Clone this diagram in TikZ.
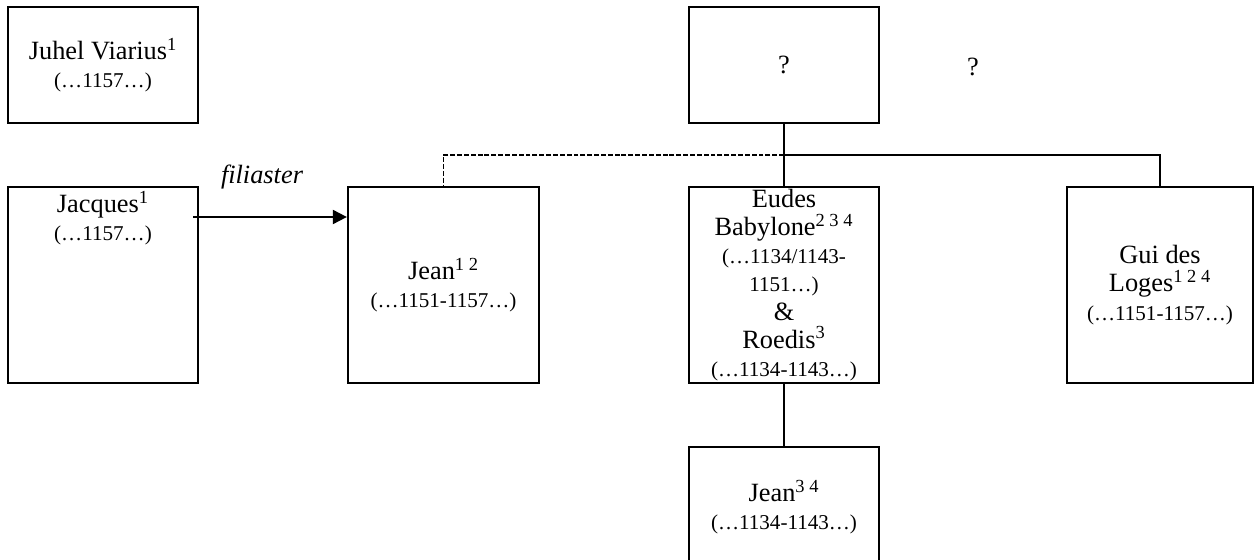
\documentclass[tikz,border=0pt]{standalone}
\usepackage{fontspec}
\setmainfont{Liberation Serif}
\usepackage{tikz}
\usetikzlibrary{arrows.meta,positioning}
\newcommand{\lifespan}[1]{{\fontsize{12}{16}\selectfont #1}}

\begin{document}
\begin{tikzpicture}[
 x=0.02cm,y=-0.02cm,
 box/.style={draw,line width=1.3pt,align=center,inner sep=0pt,minimum width=3.8cm,font=\fontsize{15}{16}\selectfont},
 link/.style={line width=1.1pt},
 arrow/.style={-{Triangle[length=8pt,width=8pt]},line width=1.1pt}
]
\useasboundingbox (0,0) rectangle (1254,560);
\node[box,minimum height=2.32cm] (juhel) at (103,65) {Juhel Viarius\textsuperscript{1}\\\lifespan{(…1157…)}};
\node[box,minimum height=2.32cm] (unknown) at (784,65) {?};
\node[font=\fontsize{15}{16}\selectfont] (otherq) at (973,67) {?};
\node[box,minimum height=3.92cm] (jacques) at (103,285) {};
\node[align=center,anchor=north,inner sep=0pt,font=\fontsize{15}{16}\selectfont,below=3pt of jacques.north] (jacquestxt) {Jacques\textsuperscript{1}\\\lifespan{(…1157…)}};
\node[box,minimum width=3.82cm,minimum height=3.92cm] (jean) at (443.5,285) {Jean\textsuperscript{1 2}\\\lifespan{(…1151-1157…)}};
\node[box,minimum height=3.92cm] (eudes) at (784,285) {Eudes\\Babylone\textsuperscript{2 3 4}\\\lifespan{(…1134/1143-}\\\lifespan{1151…)}\\\&\\Roedis\textsuperscript{3}\\\lifespan{(…1134-1143…)}};
\node[box,minimum width=3.72cm,minimum height=3.92cm] (gui) at (1160,285) {Gui des\\Loges\textsuperscript{1 2 4}\\\lifespan{(…1151-1157…)}};
\node[box,minimum height=2.4cm] (jeanson) at (784,507) {Jean\textsuperscript{3 4}\\\lifespan{(…1134-1143…)}};
\node[font=\fontsize{15}{16}\selectfont\itshape] (filiaster) at (262,177) {filiaster};
% family lines
\coordinate (fork) at (784,155);
\coordinate (fromjacques) at (193,217);
\draw[link] (unknown.south) -- (eudes.north);
\draw[link] (fork) -| (gui.north);
\draw[link,dash pattern=on 2.8pt off 1.1pt] (fork) -| (jean.north);
\draw[link] (eudes.south) -- (jeanson.north);
\draw[arrow] (fromjacques) -- (fromjacques -| jean.west);
\end{tikzpicture}
\end{document}
